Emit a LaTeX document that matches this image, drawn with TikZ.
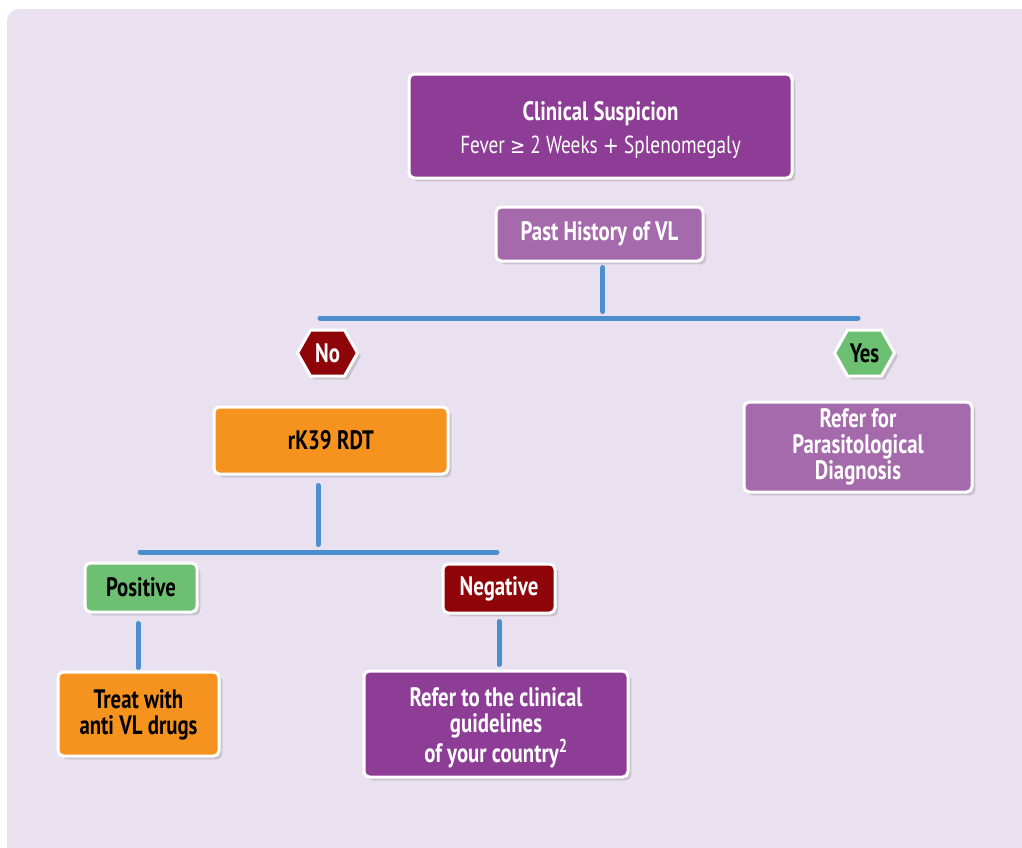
\documentclass[tikz,border=0pt]{standalone}
\usepackage{fontspec}
\setmainfont[FakeStretch=0.78]{PT Sans}
\newfontfamily\symf[FakeStretch=0.85]{DejaVu Sans}
\usetikzlibrary{shadows,calc}
\definecolor{bgc}{HTML}{E9E1EF}
\definecolor{purp}{HTML}{8E3D96}
\definecolor{lpurp}{HTML}{A46AAC}
\definecolor{orng}{HTML}{F6931E}
\definecolor{grn}{HTML}{6DC072}
\definecolor{dred}{HTML}{8E0408}
\definecolor{conc}{HTML}{4C8ECE}
\tikzset{
  box/.style={draw=white, line width=2.25pt, rounded corners=4pt, align=center,
    inner sep=0pt, font=\bfseries\fontsize{20}{19.5}\selectfont,
    drop shadow={shadow xshift=2.5pt, shadow yshift=-2.5pt, opacity=0.25, fill=black!60}},
  conn/.style={draw=conc, line width=3.75pt, line cap=round},
  hexs/.style={draw=white, line width=2.25pt, line join=miter,
    drop shadow={shadow xshift=2.5pt, shadow yshift=-2.5pt, opacity=0.25, fill=black!60}},
  lbl/.style={inner sep=0pt, font=\bfseries\fontsize{20}{19.5}\selectfont}
}
\begin{document}
\begin{tikzpicture}[x=0.75pt,y=-0.75pt]
\useasboundingbox (0,0) rectangle (1022,847);
\fill[white] (0,0) rectangle (1022,847);
\fill[bgc, rounded corners=9pt] (7,9) rectangle (1040,870);

\node[box, fill=purp, text=white, minimum width=287.25pt, minimum height=78pt] (clin) at (600.5,126)
  {\rule{0pt}{20pt}Clinical Suspicion\\[5pt] {\mdseries\fontsize{18.5}{19.5}\selectfont Fever {\symf\fontsize{16}{19.5}\selectfont ≥} 2 Weeks {\symf\fontsize{17}{19.5}\selectfont +} Splenomegaly}};
\node[box, fill=lpurp, text=white, minimum width=155.25pt, minimum height=40.5pt] (past) at (599.5,234) {Past History of VL};

\coordinate (b1l) at (320,318);
\coordinate (b1r) at (858,318);
\draw[conn] ([xshift=2.6pt,yshift=-3.75pt]past.south) -- ([xshift=2.6pt,yshift=-36.75pt]past.south);
\draw[conn] (b1l) -- (b1r);

% hexagons
\coordinate (noc) at (327.5,353);
\filldraw[hexs, fill=dred] ($(noc)+(-30,0)$) -- ($(noc)+(-17,-23)$) -- ($(noc)+(17,-23)$) -- ($(noc)+(30,0)$) -- ($(noc)+(17,23)$) -- ($(noc)+(-17,23)$) -- cycle;
\node[lbl, text=white] (no) at (noc) {No};
\coordinate (yesc) at (864.5,353);
\filldraw[hexs, fill=grn] ($(yesc)+(-30,0)$) -- ($(yesc)+(-17,-23)$) -- ($(yesc)+(17,-23)$) -- ($(yesc)+(30,0)$) -- ($(yesc)+(17,23)$) -- ($(yesc)+(-17,23)$) -- cycle;
\node[lbl, text=black] (yes) at (yesc) {Yes};

\node[box, fill=orng, text=black, minimum width=175.5pt, minimum height=50.25pt] (rdt) at (331,440.5) {rK39 RDT};
\node[box, fill=lpurp, text=white, minimum width=171pt, minimum height=67.5pt] (para) at (858,447) {Refer for\\Parasitological\\Diagnosis};

\coordinate (b2l) at (140,552);
\coordinate (b2r) at (497,552);
\draw[conn] ([xshift=-9.75pt,yshift=-7.5pt]rdt.south) -- ([xshift=-9.75pt,yshift=-51.75pt]rdt.south);
\draw[conn] (b2l) -- (b2r);

\node[box, fill=grn, text=black, minimum width=84pt, minimum height=36.75pt] (pos) at (141,587.5) {Positive};
\node[box, fill=dred, text=white, minimum width=84pt, minimum height=36.75pt] (neg) at (499,588.5) {Negative};

\draw[conn] ([xshift=-2.25pt,yshift=-7.5pt]pos.south) -- ([xshift=-2.25pt,yshift=-40.5pt]pos.south);
\draw[conn] ([yshift=-5.25pt]neg.south) -- ([yshift=-37.5pt]neg.south);

\node[box, fill=orng, text=black, minimum width=120.75pt, minimum height=63pt] (treat) at (138.5,714) {\rule{0pt}{16pt}Treat with\\anti VL drugs};
\node[box, fill=purp, text=white, minimum width=198pt, minimum height=79.5pt] (guide) at (496,724) {\rule{0pt}{20pt}Refer to the clinical\\guidelines\\of your country\textsuperscript{2}};
\end{tikzpicture}
\end{document}
